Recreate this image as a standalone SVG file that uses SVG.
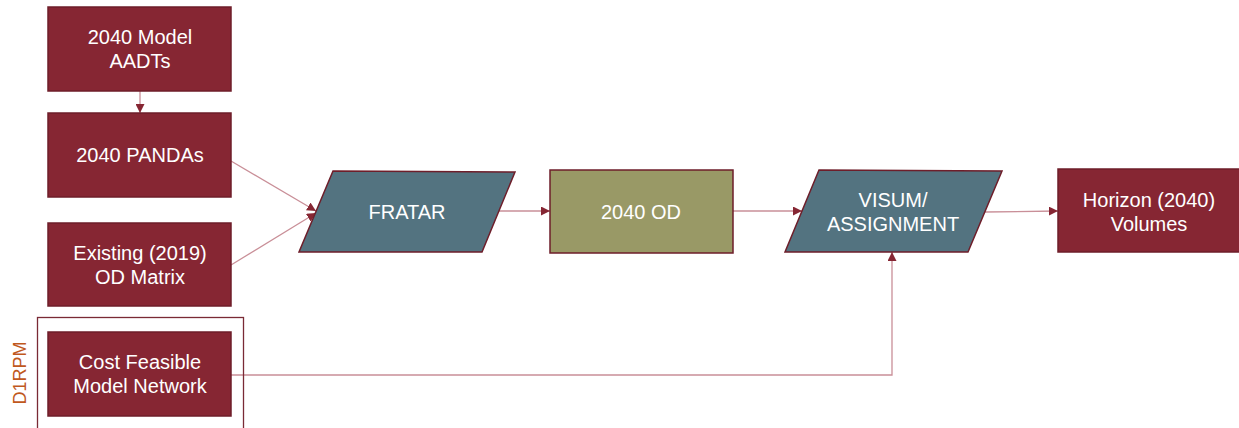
<svg xmlns="http://www.w3.org/2000/svg" width="1239" height="428" viewBox="0 0 1239 428">
<defs>
<style>
.red{fill:#862633;stroke:#6e1e2a;stroke-width:1.5}
.teal{fill:#537380;stroke:#6e1e2a;stroke-width:1.5}
.olive{fill:#999966;stroke:#6e1e2a;stroke-width:1.5}
.t{font-family:"Liberation Sans",Arial,sans-serif;font-size:20px;fill:#ffffff;text-anchor:middle}
.c{fill:none;stroke:#c98f98;stroke-width:1.3}
</style>
<marker id="ah" viewBox="0 0 10 10" refX="10" refY="5" markerWidth="9" markerHeight="9" markerUnits="userSpaceOnUse" orient="auto">
<path d="M0,0 L10,5 L0,10 z" fill="#862633"/>
</marker>
</defs>
<rect width="1239" height="428" fill="#ffffff"/>
<g id="connectors">
<line class="c" x1="140" y1="91" x2="140" y2="113" marker-end="url(#ah)"/>
<line class="c" x1="231" y1="161" x2="316" y2="211" marker-end="url(#ah)"/>
<line class="c" x1="231" y1="265" x2="316" y2="213" marker-end="url(#ah)"/>
<line class="c" x1="499" y1="211" x2="550" y2="211" marker-end="url(#ah)"/>
<line class="c" x1="733" y1="211" x2="802" y2="211" marker-end="url(#ah)"/>
<line class="c" x1="985" y1="212" x2="1058" y2="211" marker-end="url(#ah)"/>
<polyline class="c" points="231,375 892,375 892,252" marker-end="url(#ah)"/>
</g>
<g id="d1rpm">
<rect x="37.5" y="317.5" width="206" height="118" fill="none" stroke="#7a2a35" stroke-width="1.3"/>
<text x="0" y="0" transform="translate(26,373) rotate(-90)" font-family="Liberation Sans,Arial,sans-serif" font-size="18" fill="#c0581d" text-anchor="middle">D1RPM</text>
</g>
<g id="aadts">
<rect class="red" x="48" y="7" width="183" height="84"/>
<text class="t" x="140" y="44">2040 Model</text>
<text class="t" x="140" y="68">AADTs</text>
</g>
<g id="pandas">
<rect class="red" x="48" y="113" width="183" height="84"/>
<text class="t" x="140" y="162">2040 PANDAs</text>
</g>
<g id="existing">
<rect class="red" x="48" y="223" width="183" height="83"/>
<text class="t" x="140" y="260">Existing (2019)</text>
<text class="t" x="140" y="284">OD Matrix</text>
</g>
<g id="costfeasible">
<rect class="red" x="48" y="332" width="183" height="84"/>
<text class="t" x="140" y="369">Cost Feasible</text>
<text class="t" x="140" y="393">Model Network</text>
</g>
<g id="fratar">
<polygon class="teal" points="333,171 515,172 482,252 299,252"/>
<text class="t" x="407" y="219">FRATAR</text>
</g>
<g id="od2040">
<rect class="olive" x="550" y="170" width="183" height="83"/>
<text class="t" x="641" y="219">2040 OD</text>
</g>
<g id="visum">
<polygon class="teal" points="819,170 1002,171 968,252 785,252"/>
<text class="t" x="893" y="207">VISUM/</text>
<text class="t" x="893" y="231">ASSIGNMENT</text>
</g>
<g id="horizon">
<rect class="red" x="1058" y="169" width="183" height="83"/>
<text class="t" x="1149" y="207">Horizon (2040)</text>
<text class="t" x="1149" y="231">Volumes</text>
</g>
</svg>
